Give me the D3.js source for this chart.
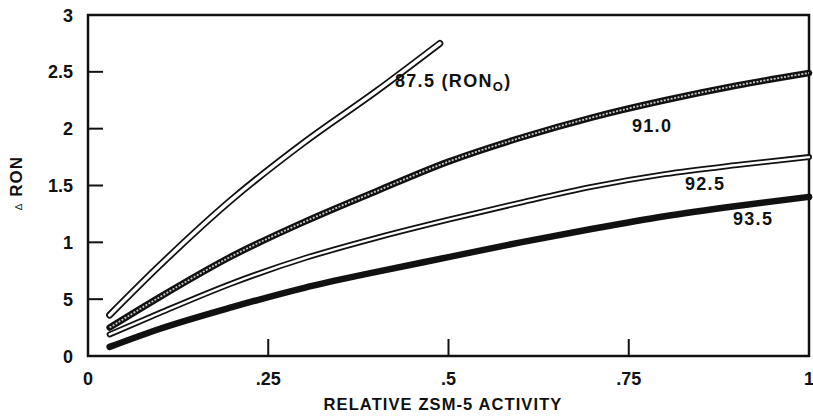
<!DOCTYPE html>
<html>
<head>
<meta charset="utf-8">
<script src="https://cdn.jsdelivr.net/npm/d3@7"></script>
<style>
  html, body { margin: 0; padding: 0; background: #fff; }
  svg { display: block; }
  text { font-family: "Liberation Sans", Arial, Helvetica, sans-serif; font-weight: bold; fill: #111; }
</style>
</head>
<body>
<svg id="chart" width="813" height="417"></svg>
<script>
// Relative ZSM-5 activity vs. octane gain, one curve per base RON
const xTicks = [0, 0.25, 0.5, 0.75, 1];
const xTickLabels = ["0", ".25", ".5", ".75", "1"];
const yTicks = [0, 0.5, 1, 1.5, 2, 2.5, 3];
const yTickLabels = ["0", "5", "1", "1.5", "2", "2.5", "3"];

const ron875 = [[0.03,0.36],[0.1,0.8],[0.2,1.38],[0.3,1.88],[0.4,2.33],[0.488,2.75]];
const ron910 = [[0.03,0.25],[0.1,0.52],[0.2,0.88],[0.3,1.18],[0.4,1.45],[0.5,1.71],[0.6,1.92],[0.7,2.1],[0.8,2.25],[0.9,2.38],[1.0,2.49]];
const ron925 = [[0.03,0.19],[0.1,0.38],[0.2,0.64],[0.3,0.86],[0.4,1.04],[0.5,1.2],[0.6,1.35],[0.7,1.49],[0.8,1.6],[0.9,1.68],[1.0,1.75]];
const ron935 = [[0.03,0.08],[0.1,0.24],[0.2,0.43],[0.3,0.6],[0.4,0.74],[0.5,0.87],[0.6,1.0],[0.7,1.12],[0.8,1.23],[0.9,1.32],[1.0,1.4]];

const svg = d3.select("#chart");
const m = { left: 88, right: 809, top: 15, bottom: 356 };

const x = d3.scaleLinear().domain([0, 1]).range([m.left, m.right]);
const y = d3.scaleLinear().domain([0, 3]).range([m.bottom, m.top]);

const line = d3.line().x(d => x(d[0])).y(d => y(d[1])).curve(d3.curveMonotoneX);

// frame
svg.append("rect")
  .attr("x", m.left).attr("y", m.top)
  .attr("width", m.right - m.left).attr("height", m.bottom - m.top)
  .attr("fill", "none").attr("stroke", "#111").attr("stroke-width", 2.5);

// inward ticks
svg.append("g").selectAll("line").data(xTicks.filter(v => v > 0 && v < 1)).join("line")
  .attr("x1", d => x(d)).attr("x2", d => x(d))
  .attr("y1", m.bottom).attr("y2", m.bottom - 17)
  .attr("stroke", "#111").attr("stroke-width", 2);
svg.append("g").selectAll("line").data(yTicks.filter(v => v > 0 && v < 3)).join("line")
  .attr("x1", m.left).attr("x2", m.left + 15)
  .attr("y1", d => y(d)).attr("y2", d => y(d))
  .attr("stroke", "#111").attr("stroke-width", 2);

// tick labels (the last one is kept inside the page edge)
svg.append("g").selectAll("text").data(xTicks).join("text")
  .attr("x", d => d === 1 ? x(d) - 2 : x(d)).attr("y", 385)
  .attr("text-anchor", d => d === 1 ? "start" : "middle")
  .attr("dx", d => d === 1 ? -3 : 0)
  .attr("font-size", 18)
  .text((d, i) => xTickLabels[i]);
svg.append("g").selectAll("text").data(yTicks).join("text")
  .attr("x", 73).attr("y", d => y(d) + 6.5)
  .attr("text-anchor", "end").attr("font-size", 18)
  .text((d, i) => yTickLabels[i]);

// axis titles
svg.append("text")
  .attr("x", 443).attr("y", 410)
  .attr("text-anchor", "middle").attr("font-size", 16.5).attr("letter-spacing", 1.1)
  .text("RELATIVE ZSM-5 ACTIVITY");

const yt = svg.append("text")
  .attr("transform", "translate(22,183) rotate(-90)")
  .attr("text-anchor", "middle").attr("font-size", 17).attr("letter-spacing", 1);
yt.append("tspan").attr("font-size", 10).attr("font-weight", "normal").text("\u2206");
yt.append("tspan").attr("dx", 6).text("RON");

// curves
function drawDouble(data, outer, inner) {
  svg.append("path").attr("d", line(data)).attr("fill", "none")
    .attr("stroke", "#111").attr("stroke-width", outer).attr("stroke-linecap", "round");
  svg.append("path").attr("d", line(data)).attr("fill", "none")
    .attr("stroke", "#fff").attr("stroke-width", inner).attr("stroke-linecap", "round");
}

drawDouble(ron875, 7, 3.4);

svg.append("path").attr("d", line(ron910)).attr("fill", "none")
  .attr("stroke", "#111").attr("stroke-width", 6.5).attr("stroke-linecap", "round");
svg.append("path").attr("d", line(ron910)).attr("fill", "none")
  .attr("stroke", "#c8c8c8").attr("stroke-width", 1.8).attr("stroke-dasharray", "2 1.5");

drawDouble(ron925, 6, 2.4);

svg.append("path").attr("d", line(ron935)).attr("fill", "none")
  .attr("stroke", "#111").attr("stroke-width", 6.5).attr("stroke-linecap", "round");

// curve labels
const lab = svg.append("g").attr("font-size", 18).attr("letter-spacing", 1.3);
const t875 = lab.append("text").attr("x", 395).attr("y", 87);
t875.append("tspan").text("87.5 (RON");
t875.append("tspan").attr("font-size", 13).attr("dy", 4).text("O");
t875.append("tspan").attr("dy", -4).text(")");
lab.append("text").attr("x", 632).attr("y", 132).text("91.0");
lab.append("text").attr("x", 685).attr("y", 190).text("92.5");
lab.append("text").attr("x", 733).attr("y", 225).text("93.5");
</script>
</body>
</html>
